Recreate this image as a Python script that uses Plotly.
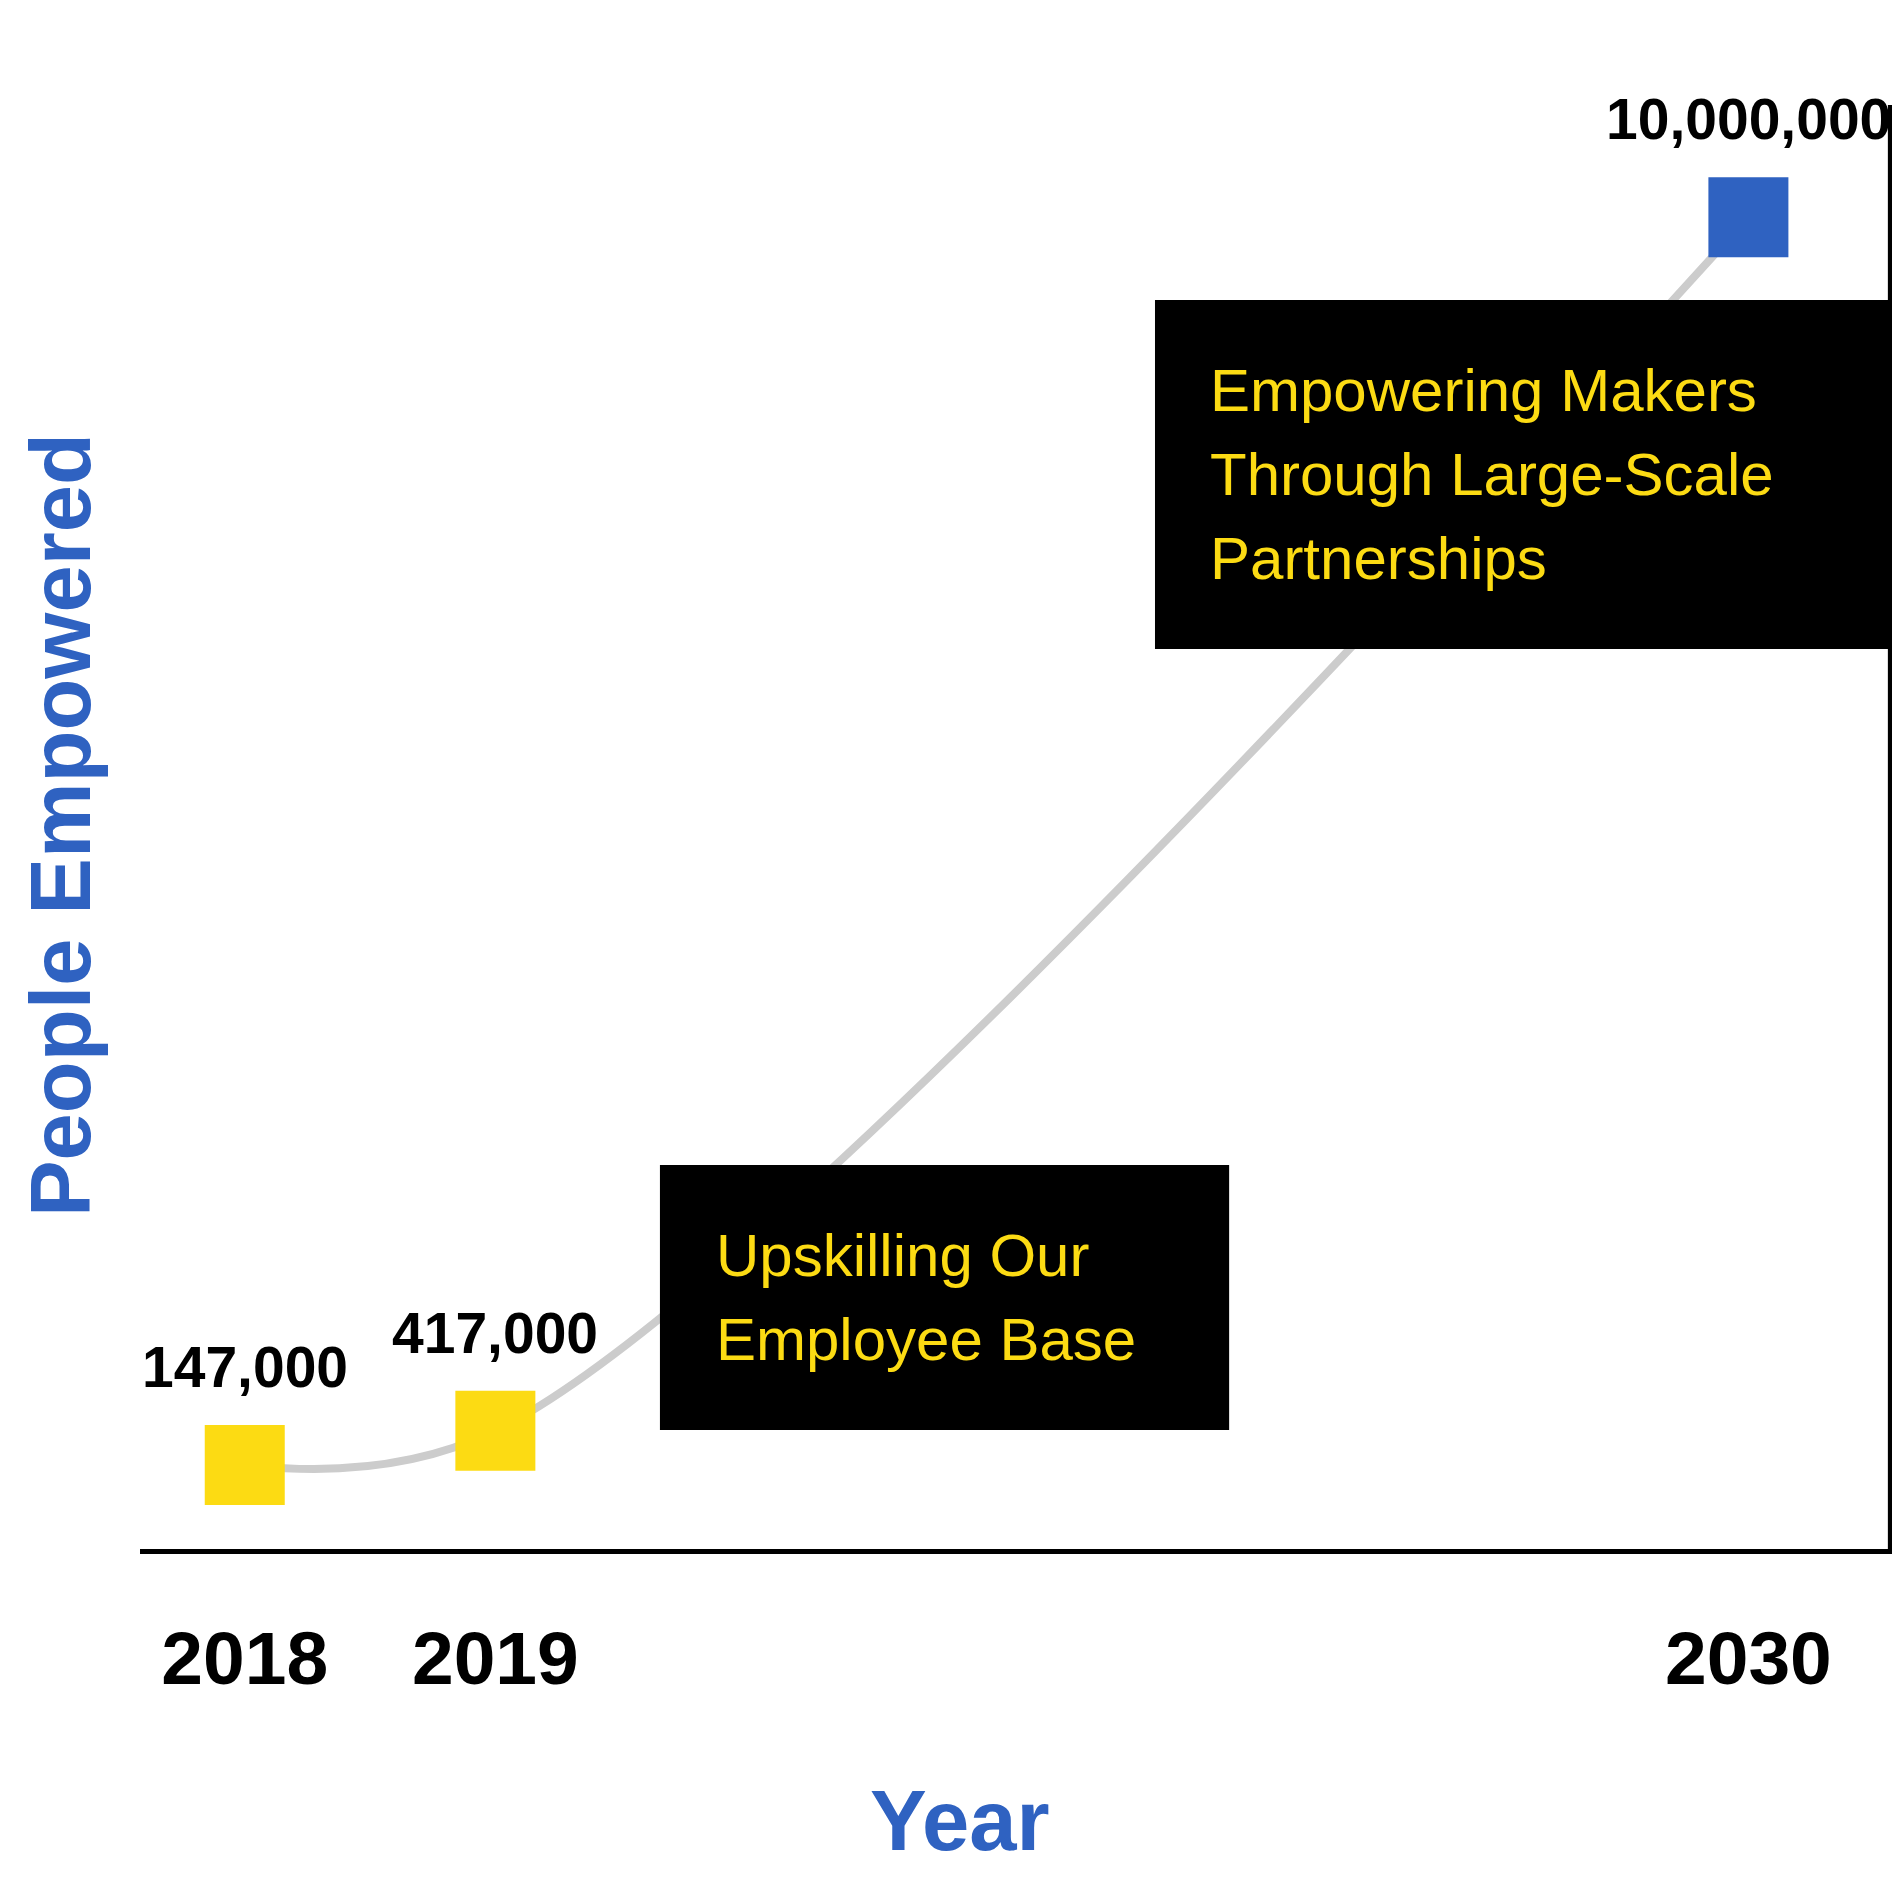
import plotly.graph_objects as go

# timeline of people empowered
years = ["2018", "2019", "2030"]
people = [147000, 417000, 10000000]
value_labels = ["147,000", "417,000", "10,000,000"]

box1_lines = ["Upskilling Our", "Employee Base"]
box2_lines = ["Empowering Makers", "Through Large-Scale", "Partnerships"]

YELLOW = "#FCDB13"
BLUE = "#2F62C1"
FONT = "Liberation Sans"

# empty slots keep the gap between 2019 and 2030 on the category axis
gap_slots = [" " * i for i in range(1, 5)]
category_order = years[:2] + gap_slots + years[2:]

fig = go.Figure()

# grey trend curve
fig.add_trace(go.Scatter(
    x=years, y=people,
    mode="lines",
    line=dict(color="#CCCCCC", width=8, shape="spline", smoothing=1.0),
    hoverinfo="skip",
))

# square markers
fig.add_trace(go.Scatter(
    x=years, y=people,
    mode="markers",
    marker=dict(symbol="square", size=80, color=[YELLOW, YELLOW, BLUE]),
    cliponaxis=False,
))

# value labels above markers (category axis -> use the slot index)
for yr, val, lab in zip(years, people, value_labels):
    fig.add_annotation(x=category_order.index(yr), y=val, text="<b>%s</b>" % lab,
                       showarrow=False, yanchor="bottom", yshift=64,
                       font=dict(family=FONT, size=57, color="black"))

# black boxes
fig.add_shape(type="rect", xref="paper", yref="paper",
              x0=0.2966, x1=0.6213, y0=0.0824, y1=0.2659,
              fillcolor="black", line_width=0, layer="above")
fig.add_shape(type="rect", xref="paper", yref="paper",
              x0=0.5790, x1=1.0, y0=0.6233, y1=0.8650,
              fillcolor="black", line_width=0, layer="above")

for i, line in enumerate(box1_lines):
    fig.add_annotation(xref="paper", yref="paper", x=0.3275, y=0.2036 - i * 0.0582,
                       text=line, showarrow=False, xanchor="left", yanchor="middle",
                       font=dict(family=FONT, size=60, color=YELLOW))
for i, line in enumerate(box2_lines):
    fig.add_annotation(xref="paper", yref="paper", x=0.6095, y=0.8026 - i * 0.0582,
                       text=line, showarrow=False, xanchor="left", yanchor="middle",
                       font=dict(family=FONT, size=60, color=YELLOW))

# right-hand frame line
fig.add_shape(type="line", xref="paper", yref="paper", x0=0.9985, x1=0.9985, y0=0, y1=1,
              line=dict(color="black", width=5), layer="above")

# axis titles
fig.add_annotation(xref="paper", yref="paper", x=0.468, y=-0.188,
                   text="<b>Year</b>", showarrow=False, xanchor="center", yanchor="middle",
                   font=dict(family=FONT, size=85, color=BLUE))
fig.add_annotation(xref="paper", yref="paper", x=-0.045, y=0.5014,
                   text="<b>People Empowered</b>", showarrow=False, textangle=-90,
                   xanchor="center", yanchor="middle",
                   font=dict(family=FONT, size=85, color=BLUE))

fig.update_xaxes(type="category", categoryorder="array", categoryarray=category_order,
                 tickvals=years, ticktext=["<b>%s</b>" % y for y in years],
                 range=[-0.418, 6.577], showline=True, linecolor="black", linewidth=5,
                 showgrid=False, zeroline=False, ticks="", ticklabelstandoff=40,
                 tickfont=dict(family=FONT, size=75, color="black"))
fig.update_yaxes(range=[-517000, 10886000], visible=False, showgrid=False, zeroline=False)

fig.update_layout(width=1900, height=1900, showlegend=False,
                  plot_bgcolor="white", paper_bgcolor="white",
                  margin=dict(l=132, r=15, t=97, b=359))

fig.write_html("out.html")
